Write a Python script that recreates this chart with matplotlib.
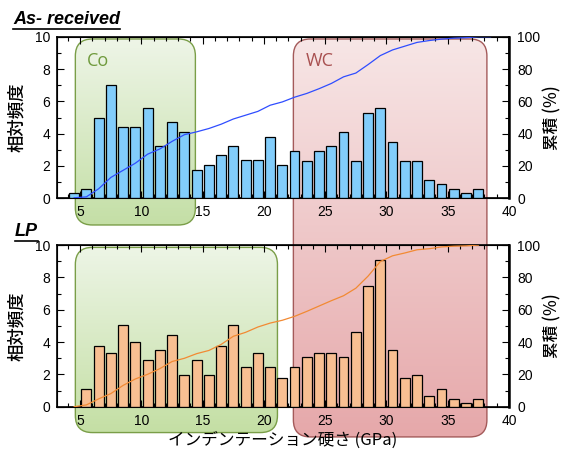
import numpy as np
import matplotlib
matplotlib.use('Agg')
import matplotlib.pyplot as plt
from matplotlib.patches import FancyBboxPatch
from matplotlib.lines import Line2D
from matplotlib.ticker import MultipleLocator

# 硬さ分布（相対頻度 %）: 1 GPa 刻みのビン中心
hardness_ar = [4.5, 5.5, 6.5, 7.5, 8.5, 9.5, 10.5, 11.5, 12.5, 13.5, 14.5, 15.5,
               16.5, 17.5, 18.5, 19.5, 20.5, 21.5, 22.5, 23.5, 24.5, 25.5, 26.5,
               27.5, 28.5, 29.5, 30.5, 31.5, 32.5, 33.5, 34.5, 35.5, 36.5, 37.5, 38.5]
freq_ar = [0.31, 0.60, 4.99, 7.03, 4.41, 4.41, 5.57, 3.24, 4.70, 4.12, 1.77, 2.06,
           2.66, 3.24, 2.35, 2.35, 3.81, 2.06, 2.93, 2.33, 2.93, 3.24, 4.10,
           2.33, 5.26, 5.57, 3.50, 2.33, 2.33, 1.15, 0.89, 0.58, 0.31, 0.58, 0.0]

hardness_lp = [4.5, 5.5, 6.5, 7.5, 8.5, 9.5, 10.5, 11.5, 12.5, 13.5, 14.5, 15.5,
               16.5, 17.5, 18.5, 19.5, 20.5, 21.5, 22.5, 23.5, 24.5, 25.5, 26.5,
               27.5, 28.5, 29.5, 30.5, 31.5, 32.5, 33.5, 34.5, 35.5, 36.5, 37.5]
freq_lp = [0.0, 1.11, 3.73, 3.30, 5.07, 3.98, 2.87, 3.53, 4.41, 1.98, 2.87, 1.98,
           3.73, 5.07, 2.43, 3.30, 2.43, 1.75, 2.43, 3.09, 3.30, 3.30, 3.09,
           4.64, 7.50, 9.05, 3.53, 1.75, 1.98, 0.66, 1.11, 0.45, 0.21, 0.45]

# 相の範囲 (GPa, 相対頻度軸の値)
co_range_ar = (4.6, 14.4, -1.65, 9.86)
co_range_lp = (4.6, 21.1, -1.6, 9.86)
wc_range = (22.4, 38.2)

W, H = 563, 450
JP = ['Noto Sans CJK JP', 'DejaVu Sans']
NUM = 'Liberation Sans'

fig = plt.figure(figsize=(W / 100, H / 100), dpi=100)
bg = fig.add_axes([0, 0, 1, 1], zorder=-10)
bg.set_xlim(0, W)
bg.set_ylim(0, H)
bg.axis('off')

ax1 = fig.add_axes([0.1012, 0.5593, 0.8028, 0.3591], facecolor='none')
ax2 = fig.add_axes([0.1012, 0.0962, 0.8028, 0.3591], facecolor='none')


def setup(ax, x, freq, bar_color, line_color):
    ax.bar(x, freq, width=0.8, color=bar_color, edgecolor='black', linewidth=0.9, zorder=3)
    ax.set_xlim(3.1, 40)
    ax.set_ylim(0, 10)
    ax.xaxis.set_major_locator(MultipleLocator(5))
    ax.xaxis.set_minor_locator(MultipleLocator(1))
    ax.yaxis.set_major_locator(MultipleLocator(2))
    ax.yaxis.set_minor_locator(MultipleLocator(1))
    ax.tick_params(which='both', direction='in', top=True, right=False,
                   labelsize=10, pad=5, width=0.8)
    ax.tick_params(which='major', length=5)
    ax.tick_params(which='minor', length=3)
    for lab in ax.get_xticklabels() + ax.get_yticklabels():
        lab.set_family(NUM)
    ax.set_xticks([5, 10, 15, 20, 25, 30, 35, 40])
    ax.set_ylabel('相対頻度', family=JP, fontsize=12.5, fontweight='medium', labelpad=6)
    for s in ax.spines.values():
        s.set_linewidth(1.2)

    cum = np.cumsum(freq) / np.sum(freq) * 100
    axr = ax.twinx()
    axr.plot(x, cum, color=line_color, linewidth=0.9, zorder=4)
    axr.set_ylim(0, 100)
    axr.yaxis.set_major_locator(MultipleLocator(20))
    axr.yaxis.set_minor_locator(MultipleLocator(10))
    axr.tick_params(which='both', direction='in', labelsize=10, pad=6, width=0.8)
    axr.tick_params(which='major', length=5)
    axr.tick_params(which='minor', length=3)
    for lab in axr.get_yticklabels():
        lab.set_family(NUM)
    axr.spines['right'].set_linewidth(1.8)
    axr.set_ylabel('累積 (%)', family=JP, fontsize=12, fontweight='medium', labelpad=2)
    return axr


setup(ax1, hardness_ar, freq_ar, '#82cdfb', '#2f4dff')
setup(ax2, hardness_lp, freq_lp, '#f8bf92', '#f28a33')
ax2.set_xlabel('インデンテーション硬さ (GPa)', family=JP, fontsize=12, labelpad=3)

# 位置を確定させてから領域の枠を描く
fig.canvas.draw()


def to_px(ax, x, y):
    return ax.transData.transform((x, y))


def phase_box(p0, p1, top_rgb, bot_rgb, edge, label=None, label_color=None):
    x0, y0 = min(p0[0], p1[0]), min(p0[1], p1[1])
    x1, y1 = max(p0[0], p1[0]), max(p0[1], p1[1])
    box = FancyBboxPatch((x0, y0), x1 - x0, y1 - y0,
                         boxstyle='round,pad=0,rounding_size=17',
                         facecolor='none', edgecolor=edge, linewidth=1.0, zorder=2)
    bg.add_patch(box)
    grad = np.linspace(0, 1, 256)[:, None]
    img = np.zeros((256, 1, 3))
    for k in range(3):
        img[:, 0, k] = (top_rgb[k] + (bot_rgb[k] - top_rgb[k]) * grad[:, 0]) / 255
    im = bg.imshow(img, extent=(x0, x1, y0, y1), origin='upper', aspect='auto', zorder=1)
    im.set_clip_path(box)
    if label:
        bg.text(x0 + 12, y1 - 22, label, color=label_color, fontsize=13,
                family='Open Sans', va='center', ha='left', zorder=3)


ca = co_range_ar
phase_box(to_px(ax1, ca[0], ca[3]), to_px(ax1, ca[1], ca[2]),
          (238, 245, 231), (196, 223, 166), '#7a9e48', 'Co', '#6f9a3c')
cl = co_range_lp
phase_box(to_px(ax2, cl[0], cl[3]), to_px(ax2, cl[1], cl[2]),
          (237, 245, 230), (196, 223, 164), '#7a9e48')
phase_box(to_px(ax1, wc_range[0], 9.86), to_px(ax2, wc_range[1], -1.87),
          (247, 230, 230), (230, 168, 170), '#a45a5a', 'WC', '#a85050')
bg.set_xlim(0, W)
bg.set_ylim(0, H)


def underlined_title(x, y, s):
    t = fig.text(x / W, 1 - y / H, s, fontsize=13, fontweight='bold', style='italic',
                 family='Liberation Sans', ha='left', va='baseline')
    fig.canvas.draw()
    bb = t.get_window_extent()
    yl = bb.y0 - 0.5
    fig.add_artist(Line2D([bb.x0 / W, bb.x1 / W], [yl / H, yl / H], color='black',
                          linewidth=1.2, transform=fig.transFigure))


underlined_title(13, 24, 'As- received')
underlined_title(15, 236, 'LP')

fig.savefig('out.png', dpi=100)
